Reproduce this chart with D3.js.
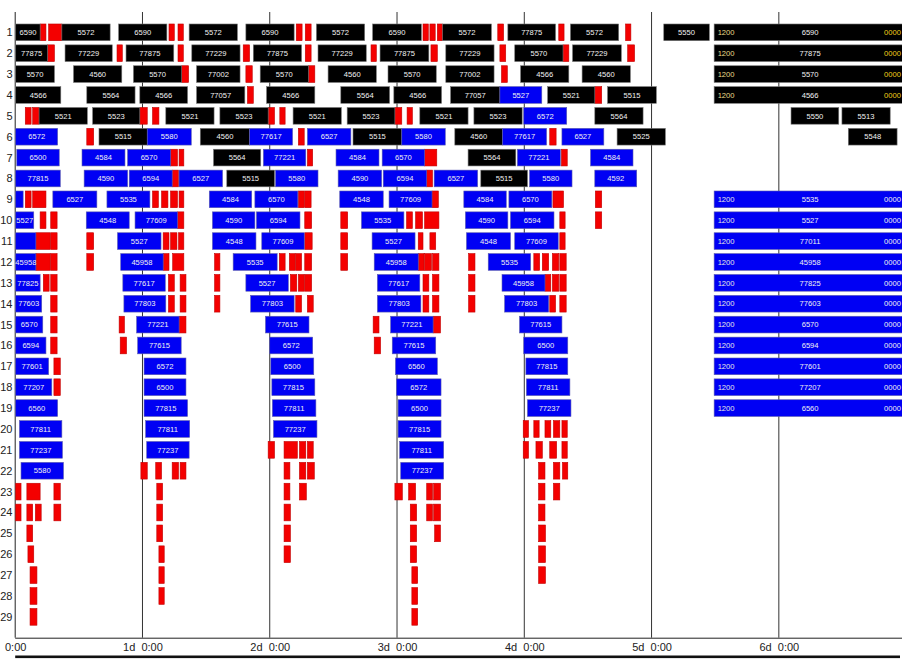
<!DOCTYPE html>
<html><head><meta charset="utf-8">
<script src="https://cdn.jsdelivr.net/npm/d3@7"></script>
<style>body{margin:0;background:#fff}svg{display:block}</style>
</head><body><svg id="c" width="902" height="659"></svg>
<script>
// ---- data (times in hours from 0:00) ----
const rows = d3.range(1, 30);
const dayTicks = [0, 1, 2, 3, 4, 5, 6];
const tickLabels = ["0:00", "1d\u00a0\u00a00:00", "2d\u00a0\u00a00:00", "3d\u00a0\u00a00:00", "4d\u00a0\u00a00:00", "5d\u00a0\u00a00:00", "6d\u00a0\u00a00:00"];

// [row, start, end, label]
const blackBars = [
[1,0.1,4.7,"6590"],[1,8.8,17.9,"5572"],[1,19.5,28.6,"6590"],[1,32.8,41.9,"5572"],[1,43.5,52.6,"6590"],[1,56.8,65.9,"5572"],[1,67.4,76.6,"6590"],[1,80.6,89.8,"5572"],[1,92.9,101.9,"77875"],[1,104.7,113.8,"5572"],[1,122.3,130.9,"5550"],
[2,0.1,6.1,"77875"],[2,9.4,18.3,"77229"],[2,20.9,29.9,"77875"],[2,33.3,42.4,"77229"],[2,44.9,54.0,"77875"],[2,57.1,66.2,"77229"],[2,68.8,78.0,"77875"],[2,81.2,90.3,"77229"],[2,94.2,103.3,"5570"],[2,105.1,114.3,"77229"],
[3,0.1,7.4,"5570"],[3,11.0,20.1,"4560"],[3,22.3,31.4,"5570"],[3,34.2,42.4,"77002"],[3,46.2,55.3,"5570"],[3,59.0,68.1,"4560"],[3,70.3,79.4,"5570"],[3,81.2,90.3,"77002"],[3,95.3,104.4,"4566"],[3,106.9,116.0,"4560"],
[4,0.1,8.6,"4566"],[4,13.5,22.6,"5564"],[4,23.5,32.5,"4566"],[4,34.2,43.3,"77057"],[4,47.4,56.5,"4566"],[4,61.4,70.6,"5564"],[4,71.4,80.4,"4566"],[4,82.1,91.4,"77057"],[4,100.4,109.3,"5521"],[4,111.7,120.9,"5515"],
[5,4.5,13.6,"5521"],[5,14.6,23.5,"5523"],[5,28.4,37.5,"5521"],[5,38.6,47.7,"5523"],[5,52.4,61.5,"5521"],[5,62.6,71.6,"5523"],[5,76.3,85.4,"5521"],[5,86.5,95.6,"5523"],[5,109.3,118.4,"5564"],[5,146.3,155.3,"5550"],[5,155.9,165.0,"5513"],
[6,15.8,24.9,"5515"],[6,34.9,44.2,"4560"],[6,63.7,72.9,"5515"],[6,82.9,91.9,"4560"],[6,113.5,122.6,"5525"],[6,157.1,166.3,"5548"],
[7,37.4,46.3,"5564"],[7,85.4,94.4,"5564"],
[8,39.9,48.9,"5515"],[8,87.8,96.6,"5515"]
];

const blueBars = [
[4,91.4,99.3,"5527"],
[5,95.9,104.0,"6572"],
[6,0.1,8.0,"6572"],[6,24.9,33.2,"5580"],[6,44.2,52.3,"77617"],[6,55.1,63.3,"6527"],[6,72.9,81.1,"5580"],[6,91.9,100.2,"77617"],[6,103.1,111.0,"6527"],
[7,0.3,8.3,"6500"],[7,12.6,20.7,"4584"],[7,21.2,29.3,"6570"],[7,46.8,54.8,"77221"],[7,60.5,68.6,"4584"],[7,69.2,77.2,"6570"],[7,94.7,102.8,"77221"],[7,108.5,116.5,"4584"],
[8,0.1,8.5,"77815"],[8,13.0,21.2,"4590"],[8,21.5,29.6,"6594"],[8,30.9,39.1,"6527"],[8,49.1,57.1,"5580"],[8,60.9,69.1,"4590"],[8,69.4,77.6,"6594"],[8,79.0,87.2,"6527"],[8,97.0,105.0,"5580"],[8,109.3,117.2,"4592"],
[9,0.1,1.5,""],[9,7.1,15.4,"6527"],[9,17.3,25.4,"5535"],[9,36.6,44.6,"4584"],[9,45.2,53.3,"6570"],[9,61.2,69.4,"4548"],[9,70.5,78.6,"77609"],[9,84.6,92.6,"4584"],[9,93.1,101.2,"6570"],
[10,0.1,3.5,"5527"],[10,13.4,21.5,"4548"],[10,22.6,30.6,"77609"],[10,37.2,45.2,"4590"],[10,45.5,53.7,"6594"],[10,65.3,73.3,"5535"],[10,84.9,92.9,"4590"],[10,93.4,101.6,"6594"],
[11,0.1,3.9,""],[11,19.3,27.5,"5527"],[11,37.2,45.4,"4548"],[11,46.5,54.5,"77609"],[11,67.3,75.4,"5527"],[11,85.1,93.4,"4548"],[11,94.2,102.4,"77609"],
[12,0.1,3.9,"45958"],[12,19.9,27.9,"45958"],[12,41.1,49.4,"5535"],[12,67.7,76.0,"45958"],[12,89.2,97.2,"5535"],
[13,0.1,4.7,"77825"],[13,20.3,28.3,"77617"],[13,43.5,51.5,"5527"],[13,68.3,76.3,"77617"],[13,91.8,99.9,"45958"],
[14,0.1,5.0,"77603"],[14,20.5,28.4,"77803"],[14,44.4,52.6,"77803"],[14,68.3,76.5,"77803"],[14,92.3,100.6,"77803"],
[15,0.1,5.2,"6570"],[15,22.9,30.9,"77221"],[15,47.2,55.4,"77615"],[15,70.8,78.8,"77221"],[15,95.1,103.1,"77615"],
[16,0.1,5.8,"6594"],[16,23.1,31.3,"77615"],[16,48.0,56.1,"6572"],[16,71.1,79.3,"77615"],[16,95.9,104.2,"6500"],
[17,0.1,6.3,"77601"],[17,24.3,32.2,"6572"],[17,48.2,56.3,"6500"],[17,71.7,79.6,"6560"],[17,96.3,104.2,"77815"],
[18,0.1,6.9,"77207"],[18,24.3,32.2,"6500"],[18,48.4,56.5,"77815"],[18,71.9,80.3,"6572"],[18,96.4,104.6,"77811"],
[19,0.1,8.0,"6560"],[19,24.3,32.5,"77815"],[19,48.5,56.7,"77811"],[19,72.2,80.3,"6500"],[19,96.6,104.8,"77237"],
[20,0.8,8.8,"77811"],[20,24.6,32.9,"77811"],[20,48.7,56.9,"77237"],[20,72.2,80.3,"77815"],
[21,0.8,8.9,"77237"],[21,24.8,32.8,"77237"],[21,72.5,80.8,"77811"],
[22,1.1,9.1,"5580"],[22,72.7,80.8,"77237"]
];

// [row, start, end]
const redBars = [
[1,4.7,5.8],[1,6.3,8.8],[1,29.0,30.0],[1,30.7,31.7],[1,53.0,54.1],[1,54.7,55.8],[1,76.9,77.9],[1,78.2,79.2],[1,79.6,80.6],[1,91.0,92.1],[1,102.5,103.5],[1,115.1,116.1],
[2,6.1,7.4],[2,19.2,20.2],[2,30.7,31.7],[2,43.0,44.2],[2,54.7,55.8],[2,67.1,68.1],[2,78.4,79.6],[2,91.4,92.5],[2,103.3,104.4],[2,115.5,116.8],
[3,31.4,32.7],[3,43.5,44.7],[3,55.3,56.5],[3,91.7,92.8],
[4,43.8,44.9],[4,109.3,110.6],
[5,1.9,3.0],[5,3.3,4.5],[5,23.5,24.9],[5,25.9,27.1],[5,47.7,48.9],[5,49.9,50.9],[5,71.6,72.9],[5,73.9,74.9],
[6,13.5,14.8],[6,53.4,54.5],[6,100.8,102.0],
[7,29.3,30.6],[7,30.9,31.8],[7,55.1,56.1],[7,77.2,79.5],[7,103.0,104.1],
[8,29.6,30.8],[8,77.6,78.7],
[9,1.9,3.0],[9,3.3,5.8],[9,25.9,27.0],[9,27.6,28.8],[9,29.3,30.6],[9,30.9,31.8],[9,53.4,54.5],[9,54.6,55.8],[9,78.6,79.8],[9,101.4,103.4],[9,109.4,110.6],
[10,4.7,5.8],[10,6.7,7.9],[10,30.6,31.8],[10,54.6,55.9],[10,61.4,62.7],[10,73.8,74.9],[10,75.5,76.8],[10,77.2,79.9],[10,102.7,103.7],[10,109.4,110.6],
[11,3.9,6.6],[11,6.7,7.9],[11,13.5,14.8],[11,27.9,29.0],[11,29.3,30.5],[11,30.8,31.8],[11,54.6,56.0],[11,61.4,62.7],[11,76.0,76.9],[11,78.2,79.3],[11,102.7,103.7],
[12,3.9,6.6],[12,6.7,7.9],[12,13.5,14.8],[12,27.9,29.0],[12,29.7,31.8],[12,37.6,38.6],[12,49.8,50.9],[12,51.7,52.8],[12,52.9,54.0],[12,54.6,55.9],[12,61.4,62.7],[12,76.0,77.1],[12,77.2,78.5],[12,78.7,79.9],[12,85.5,86.7],[12,97.8,98.9],[12,99.4,100.6],[12,101.3,102.5],[12,102.7,103.9],
[13,5.3,6.4],[13,6.7,7.9],[13,28.9,30.0],[13,31.1,32.2],[13,37.6,38.6],[13,51.9,53.1],[13,53.4,54.5],[13,54.6,55.9],[13,76.9,78.0],[13,78.7,79.9],[13,85.5,86.7],[13,99.9,101.0],[13,101.3,102.5],[13,102.7,103.9],
[14,6.7,7.9],[14,28.9,30.0],[14,31.1,32.2],[14,37.6,38.6],[14,52.9,54.0],[14,55.1,56.2],[14,76.9,78.0],[14,78.7,79.9],[14,85.5,86.7],[14,100.8,101.9],[14,102.7,103.9],
[15,6.7,7.9],[15,19.6,20.6],[15,30.9,32.2],[15,67.5,68.6],[15,78.8,80.2],
[16,6.7,7.9],[16,19.8,21.0],[16,67.7,68.9],
[17,7.3,8.5],
[18,7.3,8.5],
[20,95.8,96.8],[20,97.8,98.8],[20,99.9,101.0],[20,101.5,102.7],[20,103.1,104.1],
[21,47.7,48.9],[21,50.7,53.2],[21,53.6,54.8],[21,55.1,56.2],[21,95.8,96.8],[21,98.2,99.4],[21,100.8,102.1],[21,103.1,104.1],
[22,23.7,24.9],[22,26.5,27.6],[22,29.6,30.8],[22,31.1,32.2],[22,50.7,51.8],[22,53.6,54.8],[22,55.1,56.4],[22,98.7,99.9],[22,101.5,102.7],[22,103.2,104.2],
[23,0.1,1.1],[23,2.2,4.7],[23,7.3,8.5],[23,26.7,27.8],[23,50.7,51.8],[23,53.6,54.9],[23,71.6,73.0],[23,74.2,75.5],[23,77.6,78.7],[23,78.9,80.2],[23,98.7,99.9],[23,101.5,102.7],
[24,0.1,1.1],[24,2.2,3.3],[24,3.8,4.9],[24,7.3,8.6],[24,26.7,27.8],[24,50.7,51.9],[24,74.5,75.7],[24,77.6,78.7],[24,78.9,80.2],[24,98.7,99.9],
[25,2.2,3.3],[25,26.7,27.8],[25,50.7,51.9],[25,74.5,75.7],[25,79.1,80.2],[25,98.7,100.0],
[26,2.4,3.5],[26,27.1,28.1],[26,50.7,51.9],[26,74.5,75.7],[26,98.7,100.0],
[27,2.8,4.1],[27,27.1,28.1],[27,74.8,75.9],[27,98.7,100.0],
[28,2.8,4.1],[28,27.1,28.1],[28,74.8,75.9],
[29,2.8,4.1],[29,74.8,75.9]
];

// long open-ended assignments: [row, start, end, label]
const longBlack = [[1,131.8,168,"6590"],[2,131.8,168,"77875"],[3,131.8,168,"5570"],[4,131.8,168,"4566"]];
const longBlue = [[9,131.8,168,"5535"],[10,131.8,168,"5527"],[11,131.8,168,"77011"],[12,131.8,168,"45958"],[13,131.8,168,"77825"],[14,131.8,168,"77603"],[15,131.8,168,"6570"],[16,131.8,168,"6594"],[17,131.8,168,"77601"],[18,131.8,168,"77207"],[19,131.8,168,"6560"]];
const longStartText = "1200";
const longEndText = "0000";

// ---- drawing ----
const W = 902;
const svg = d3.select("#c");
const FONT = "Arial, 'Liberation Sans', sans-serif";
const x = d3.scaleLinear().domain([0, 168]).range([15.2, 15.2 + 168 * 5.303]);
const y = d3.scaleBand().domain(rows).range([21.9, 627.3]).paddingInner(0.2).paddingOuter(0.1);
const axisY = 637.7, gridTop = 12;

// grid lines
svg.append("g").selectAll("line").data(dayTicks.slice(1)).join("line")
  .attr("x1", d => x(d * 24)).attr("x2", d => x(d * 24))
  .attr("y1", gridTop).attr("y2", axisY)
  .attr("stroke", "#333").attr("stroke-width", 1);

// left axis
svg.append("line").attr("x1", x(0)).attr("x2", x(0)).attr("y1", gridTop).attr("y2", axisY)
  .attr("stroke", "#222").attr("stroke-width", 1);

// bottom axis
const xAxis = d3.axisBottom(x).tickValues(dayTicks.map(d => d * 24))
  .tickFormat((d, i) => tickLabels[i]).tickSize(0).tickPadding(6);
const gx = svg.append("g").attr("transform", `translate(0,${axisY})`).call(xAxis);
gx.select(".domain").attr("d", `M${x(0)},0.5H${W}`).attr("stroke", "#222");
gx.selectAll("text").attr("font-family", FONT).attr("font-size", 11).attr("fill", "#222");

// row labels
svg.append("g").selectAll("text").data(rows).join("text")
  .attr("x", 12.5).attr("y", d => y(d) + y.bandwidth() / 2)
  .attr("dy", "0.36em").attr("text-anchor", "end")
  .attr("font-family", FONT).attr("font-size", 11).attr("fill", "#222")
  .text(d => d);

function drawBars(data, fill, stroke) {
  const g = svg.append("g");
  g.selectAll("rect").data(data).join("rect")
    .attr("x", d => x(d[1])).attr("y", d => y(d[0]))
    .attr("width", d => x(d[2]) - x(d[1])).attr("height", y.bandwidth())
    .attr("fill", fill).attr("stroke", stroke).attr("stroke-width", 0.6);
  g.selectAll("text").data(data.filter(d => d[3])).join("text")
    .attr("x", d => (x(d[1]) + x(d[2])) / 2).attr("y", d => y(d[0]) + y.bandwidth() / 2)
    .attr("dy", "0.35em").attr("text-anchor", "middle")
    .attr("font-family", FONT).attr("font-size", 7.6).attr("fill", "#f2f2f2")
    .text(d => d[3]);
  return g;
}

drawBars(redBars, "#f40000", "#c00000");
drawBars(blackBars, "#000000", "#777777");
drawBars(blueBars, "#0000f4", "#5a5ab0");

function drawLong(data, fill, stroke, startCol, endCol) {
  const g = drawBars(data, fill, stroke);
  g.selectAll("text.s").data(data).join("text").attr("class", "s")
    .attr("x", d => x(d[1]) + 3.5).attr("y", d => y(d[0]) + y.bandwidth() / 2)
    .attr("dy", "0.35em").attr("font-family", FONT).attr("font-size", 7.6).attr("fill", startCol)
    .text(longStartText);
  g.selectAll("text.e").data(data).join("text").attr("class", "e")
    .attr("x", d => Math.min(x(d[2]) - 2, W - 1)).attr("y", d => y(d[0]) + y.bandwidth() / 2)
    .attr("dy", "0.35em").attr("text-anchor", "end")
    .attr("font-family", FONT).attr("font-size", 7.6).attr("fill", endCol)
    .text(longEndText);
}
drawLong(longBlack, "#000000", "#777777", "#e8dc8a", "#f2d21a");
drawLong(longBlue, "#0000f4", "#5a5ab0", "#e6e6e6", "#f2f2f2");

// bottom frame bar
svg.append("rect").attr("x", x(0)).attr("y", 655.5).attr("width", 900 - x(0)).attr("height", 2.6).attr("fill", "#111");
</script>
</body></html>
